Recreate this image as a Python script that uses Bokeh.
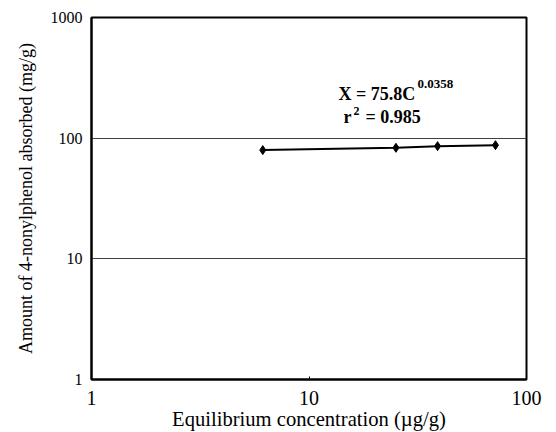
from bokeh.plotting import figure
from bokeh.models import FixedTicker, CustomJSTickFormatter, Label
from bokeh.embed import file_html
from bokeh.resources import INLINE

conc = [6.13, 25.1, 39.0, 72.0]
absorbed = [79.6, 83.2, 85.9, 87.5]
x_ticks = [1, 10, 100]
y_ticks = [1, 10, 100, 1000]
x_title = "Equilibrium concentration (\u00b5g/g)"
y_title = "Amount of 4-nonylphenol absorbed (mg/g)"
eq_text = "X = 75.8C"
eq_exp = "0.0358"
r_text = "r"
r_exp = "2"
r_val = "= 0.985"

FONT = "Liberation Serif"

p = figure(width=556, height=432, x_axis_type="log", y_axis_type="log",
           x_range=(1, 100), y_range=(1, 1000),
           output_backend="svg", toolbar_location=None,
           min_border_left=91, min_border_right=30, min_border_top=17, min_border_bottom=53)

p.line(conc, absorbed, line_color="black", line_width=2)
p.scatter(conc, absorbed, marker="diamond", size=9, color="black")

fmt = CustomJSTickFormatter(code="return tick.toString();")
p.xaxis.ticker = FixedTicker(ticks=x_ticks)
p.yaxis.ticker = FixedTicker(ticks=y_ticks)
p.xaxis.formatter = fmt
p.yaxis.formatter = fmt
for ax in (p.xaxis, p.yaxis):
    ax.axis_line_color = "black"
    ax.axis_line_width = 2
    ax.major_tick_out = 0
    ax.minor_tick_out = 0
    ax.minor_tick_in = 0
    ax.major_label_text_font = FONT
    ax.major_label_text_color = "black"
    ax.axis_label_text_font = FONT
    ax.axis_label_text_font_style = "normal"
    ax.axis_label_text_color = "black"
p.xaxis.major_label_text_font_size = "20px"
p.xaxis.axis_label_text_font_size = "20.6px"
p.yaxis.major_label_text_font_size = "16px"
p.yaxis.axis_label_text_font_size = "18px"
p.xaxis.major_tick_in = 3
p.xaxis.major_tick_line_color = "black"
p.yaxis.major_tick_in = 0
p.xaxis.major_label_standoff = 11
p.yaxis.major_label_standoff = 9
p.xaxis.axis_label_standoff = 0
p.yaxis.axis_label_standoff = 12
p.xaxis.axis_label = x_title
p.yaxis.axis_label = y_title

p.xgrid.grid_line_color = None
p.ygrid.ticker = FixedTicker(ticks=y_ticks)
p.ygrid.grid_line_color = "#404040"
p.ygrid.grid_line_width = 1

p.outline_line_color = "black"
p.outline_line_width = 2
p.background_fill_color = "white"
p.border_fill_color = "white"

def lab(x, y, t, size, baseline="alphabetic"):
    p.add_layout(Label(x=x, y=y, text=t, text_font=FONT, text_font_size=size,
                       text_font_style="bold", text_color="black",
                       text_baseline=baseline, text_align="left"))

lab(13.66, 231, eq_text, "18px")
lab(31.5, 279, eq_exp, "13px")
lab(14.4, 149, r_text, "18px")
lab(16.0, 168, r_exp, "12px")
lab(18.2, 149, r_val, "18px")

open("out.html", "w").write(file_html(p, INLINE))
